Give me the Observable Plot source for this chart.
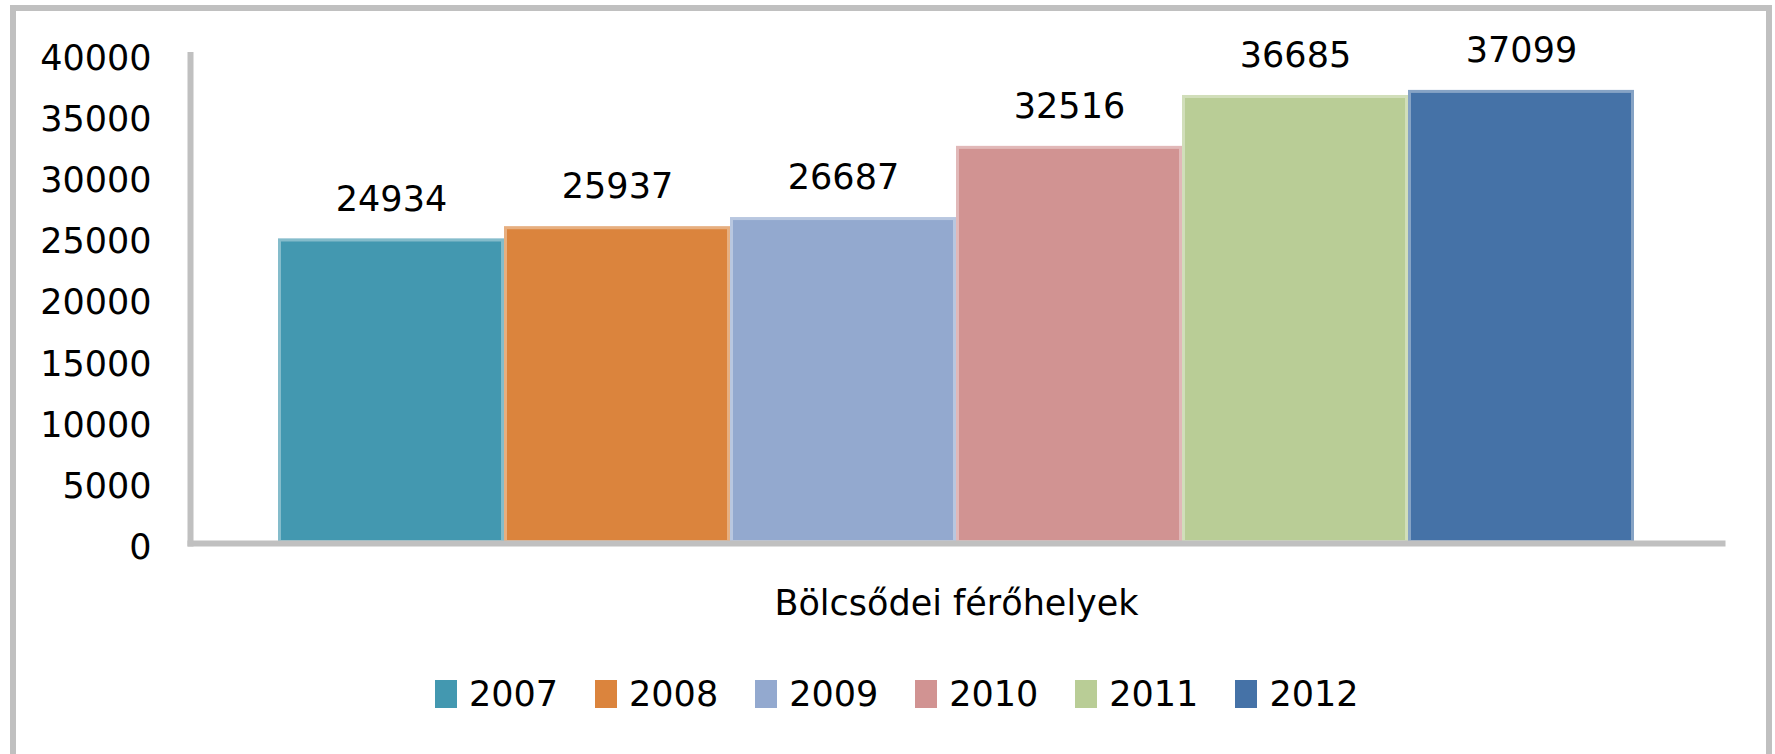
<!DOCTYPE html>
<html><head><meta charset="utf-8">
<script src="https://cdn.jsdelivr.net/npm/d3@7"></script>
<script src="https://cdn.jsdelivr.net/npm/@observablehq/plot@0.6"></script>
<style>
html,body{margin:0;padding:0;background:#fff;overflow:hidden;width:1775px;height:754px;}
#wrap{position:relative;width:1775px;height:754px;}
#border{position:absolute;left:10px;top:5px;right:3px;height:900px;border:6px solid #c0c0c0;border-bottom:none;box-sizing:border-box;pointer-events:none;}
#chart{position:absolute;left:0;top:0;}
#legend{position:absolute;left:435px;top:674px;font-family:"DejaVu Sans";font-size:35px;color:#000;}
.lg-swatches{margin:0 !important;}
.lg-swatch{margin-right:37px !important;}
.lg-swatch:last-child{margin-right:0 !important;}
.lg-swatch > svg{margin-right:12px !important;}
</style></head>
<body><div id="wrap"><div id="chart"></div><div id="legend"></div><div id="border"></div></div>
<script>
const category = "Bölcsődei férőhelyek";
const years = ["2007", "2008", "2009", "2010", "2011", "2012"];
const values = [24934, 25937, 26687, 32516, 36685, 37099];
const colors = ["#4398b0", "#db843d", "#93a9cf", "#d19392", "#b9cd96", "#4572a7"];
const yTicks = [0, 5000, 10000, 15000, 20000, 25000, 30000, 35000, 40000];

const data = years.map((yr, i) => ({category, year: yr, value: values[i]}));
const font = "DejaVu Sans";

const chart = Plot.plot({
  width: 1775,
  height: 640,
  marginLeft: 190,
  marginRight: 53,
  marginTop: 54.5,
  marginBottom: 97,
  style: {fontFamily: font, fontSize: "35px", color: "#000", background: "transparent"},
  fx: {domain: [category], padding: 0, axis: "bottom", tickSize: 0, tickPadding: 47, label: null},
  x: {domain: years, paddingInner: 0, paddingOuter: 0.38, axis: null},
  y: {domain: [0, 40000], axis: null},
  color: {domain: years, range: colors},
  marks: [
    Plot.barY(data, {fx: "category", x: "year", y: "value", fill: "year"}),
    Plot.barY(data, {fx: "category", x: "year", y: "value", fill: "none", stroke: "white", strokeOpacity: 0.35, strokeWidth: 3, inset: 1.5}),
    Plot.text(data, {fx: "category", x: "year", y: "value", text: d => String(d.value), dy: -39.5, fill: "#000", fontSize: 35}),
    Plot.axisY({ticks: yTicks, tickSize: 0, tickPadding: 39, tickFormat: d => String(d), dy: 4, label: null, fill: "#000"}),
    Plot.frame({anchor: "left", stroke: "#c0c0c0", strokeWidth: 6}),
    Plot.frame({anchor: "bottom", stroke: "#c0c0c0", strokeWidth: 6})
  ]
});
document.getElementById("chart").appendChild(chart);

const legend = Plot.legend({
  color: {domain: years, range: colors},
  legend: "swatches",
  swatchWidth: 22,
  swatchHeight: 28,
  className: "lg",
  style: {fontFamily: font, fontSize: "35px", color: "#000"}
});
document.getElementById("legend").appendChild(legend);
</script>
</body></html>
